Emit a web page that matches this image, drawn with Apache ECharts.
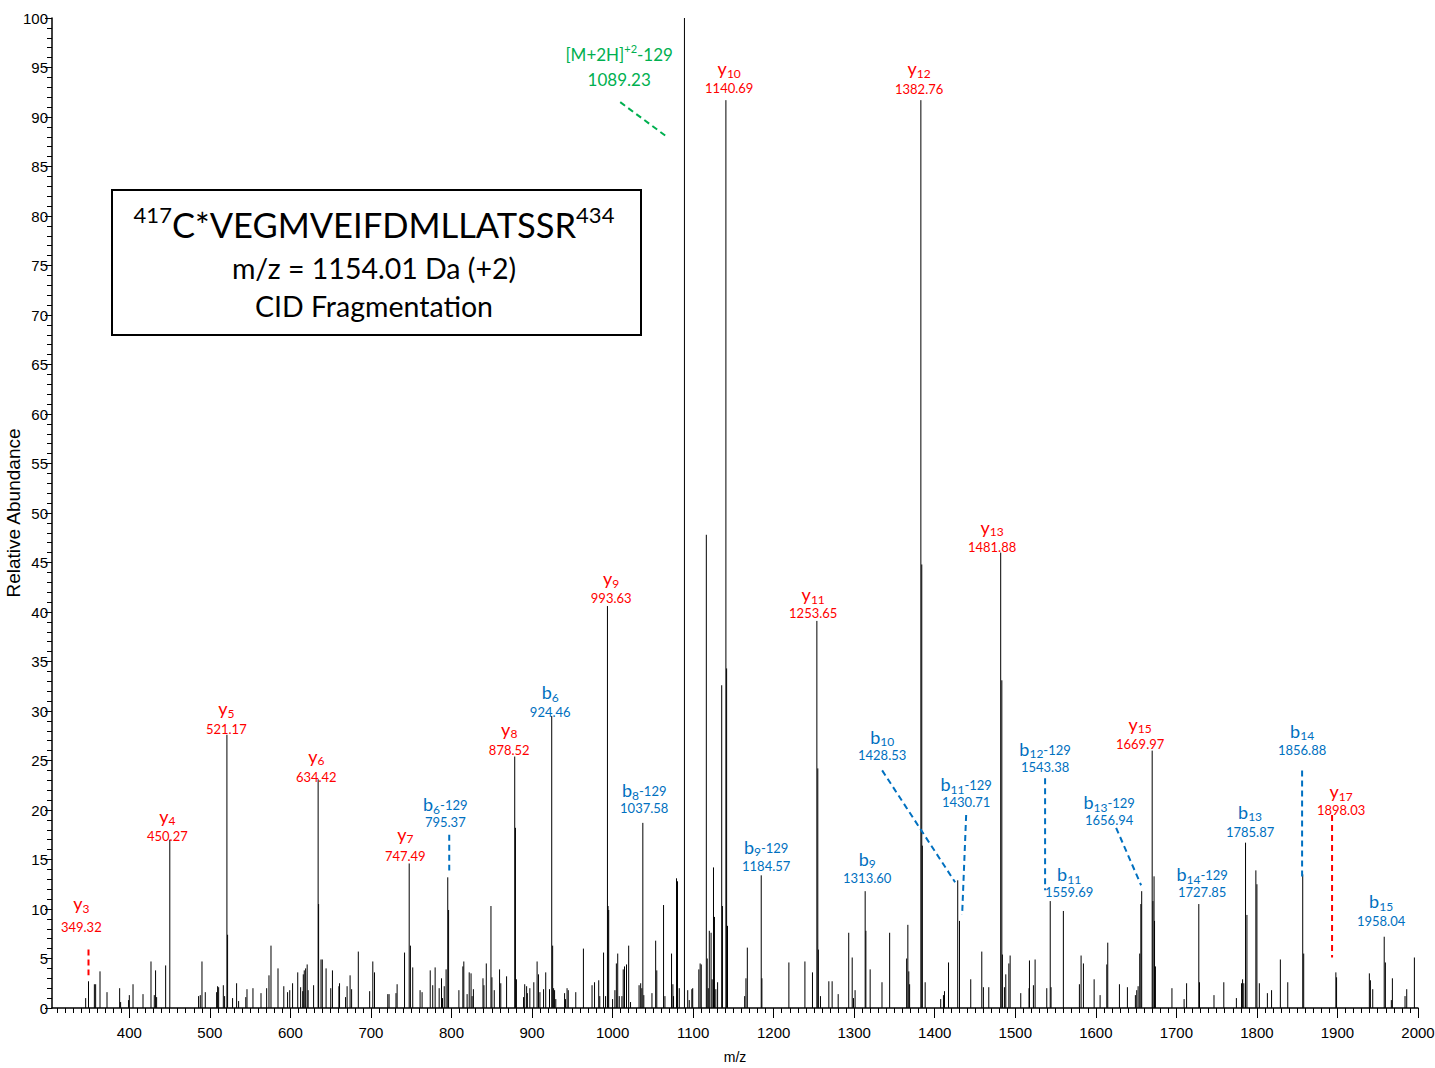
<!DOCTYPE html>
<html>
<head>
<meta charset="utf-8">
<title>CID spectrum</title>
<script src="https://cdn.jsdelivr.net/npm/echarts@6/dist/echarts.min.js"></script>
<style>
  html, body { margin: 0; padding: 0; background: #ffffff; }
  #chart { width: 1435px; height: 1068px; }
</style>
</head>
<body>
<div id="chart"></div>
<script>
// ---- spectrum data: [m/z, relative abundance %] ----
const peaks = [
  [345.8,1.0],[349.32,2.7],[356.6,2.4],[358.2,2.4],[363.6,3.7],[372.3,1.6],[388.0,2.0],[389.2,0.6],[399.1,0.8],[400.0,1.3],
  [404.6,2.4],[417.0,1.4],[426.9,4.7],[431.0,1.3],[432.6,3.8],[433.9,1.1],[445.1,4.3],[450.27,17.0],[486.0,1.2],[488.1,1.3],
  [490.2,4.7],[494.3,1.6],[508.4,1.6],[509.6,2.2],[510.9,2.1],[516.7,2.3],[518.3,1.2],[521.17,27.6],[522.0,7.4],[528.2,1.0],
  [533.2,2.5],[535.7,0.7],[544.6,1.1],[546.1,1.9],[553.5,2.0],[563.5,1.5],[570.5,2.0],[573.4,3.3],[575.9,6.3],[584.6,4.0],
  [591.8,2.2],[596.5,1.6],[599.2,1.8],[602.7,2.5],[609.1,3.6],[612.7,2.1],[615.3,1.7],[616.0,3.4],[617.2,3.8],[618.9,4.0],
  [620.8,4.4],[622.0,1.8],[628.8,2.3],[634.42,23.1],[635.0,10.5],[638.0,4.9],[639.6,4.9],[644.3,4.0],[650.1,2.0],[652.2,3.8],
  [660.2,2.2],[661.0,2.5],[668.5,1.1],[670.4,2.2],[674.1,3.3],[676.0,1.9],[684.3,5.7],[698.4,1.7],[702.3,4.7],[704.4,3.6],
  [720.9,1.4],[722.5,1.4],[731.1,1.5],[732.5,2.4],[741.7,5.6],[747.49,14.6],[749.0,6.3],[751.9,4.1],[761.0,1.8],[763.5,1.6],
  [773.6,3.8],[776.7,2.3],[779.7,4.1],[784.7,2.0],[787.6,3.0],[788.8,1.0],[791.0,2.2],[793.3,3.9],[795.37,13.2],[796.4,9.9],
  [809.2,1.8],[814.1,4.2],[815.3,4.7],[819.4,1.4],[822.0,3.6],[824.3,3.5],[825.6,1.2],[827.2,1.9],[839.1,3.0],[840.3,2.3],
  [843.2,4.5],[849.0,10.3],[850.2,3.1],[853.1,1.8],[859.7,3.9],[861.2,2.5],[868.4,3.2],[878.52,25.4],[879.4,18.2],[880.6,2.9],
  [889.5,1.1],[890.9,2.4],[893.3,2.2],[894.2,1.5],[897.3,2.0],[902.2,2.6],[906.3,4.7],[908.0,3.4],[909.8,1.6],[914.3,1.9],
  [917.0,3.6],[921.7,1.9],[924.46,29.5],[925.6,6.3],[926.8,2.0],[928.0,1.8],[929.5,0.9],[940.4,1.5],[941.5,0.9],[943.5,2.0],
  [945.0,1.8],[954.3,1.6],[963.8,6.0],[974.5,2.3],[977.6,2.6],[982.8,2.8],[984.1,1.2],[988.8,5.6],[991.3,1.2],[993.63,40.6],
  [994.4,10.3],[995.2,9.9],[1000.0,0.9],[1002.9,1.8],[1004.7,4.5],[1006.4,5.5],[1008.3,1.2],[1011.6,1.2],[1013.2,3.9],[1014.8,4.2],
  [1017.3,4.4],[1020.0,6.3],[1022.3,0.6],[1032.9,2.3],[1034.9,2.5],[1036.3,2.0],[1037.58,18.7],[1038.8,1.3],[1048.9,1.5],[1053.5,6.8],
  [1054.9,3.8],[1063.3,10.4],[1065.0,1.2],[1073.2,5.5],[1074.9,2.4],[1075.7,1.2],[1079.4,13.1],[1080.6,12.8],[1082.8,2.0],[1089.23,100.0],
  [1093.3,1.8],[1095.2,0.8],[1098.4,1.9],[1099.5,2.0],[1107.1,3.9],[1108.7,4.5],[1110.1,4.4],[1116.4,47.8],[1117.5,5.0],[1118.8,2.0],
  [1120.1,7.8],[1122.3,7.6],[1123.6,2.9],[1125.3,14.2],[1126.5,9.2],[1128.2,1.9],[1130.4,2.6],[1135.5,32.6],[1136.4,10.3],[1140.69,91.7],
  [1141.6,34.3],[1142.7,8.3],[1164.0,1.2],[1165.6,3.0],[1167.3,6.1],[1184.57,13.4],[1185.4,3.0],[1218.9,4.6],[1238.8,4.7],[1248.2,3.6],
  [1253.65,39.1],[1254.8,24.2],[1255.5,5.9],[1258.1,1.2],[1268.5,2.7],[1272.6,2.7],[1280.1,1.4],[1293.2,7.6],[1297.5,5.1],[1299.1,1.0],
  [1301.1,1.8],[1313.60,11.8],[1314.5,7.8],[1319.8,3.9],[1334.5,2.6],[1344.0,7.6],[1365.1,5.0],[1366.6,8.4],[1367.8,3.7],[1368.8,2.4],
  [1382.76,91.7],[1383.9,44.8],[1384.6,16.4],[1388.1,2.6],[1407.4,0.9],[1410.8,1.3],[1412.1,1.7],[1417.1,4.6],[1428.53,12.9],[1430.71,8.8],
  [1444.7,2.9],[1458.4,5.7],[1460.4,2.1],[1467.1,2.1],[1481.88,46.0],[1483.3,33.1],[1484.0,5.4],[1486.5,2.1],[1488.2,3.4],[1492.0,4.5],
  [1493.6,5.3],[1506.8,1.5],[1517.1,2.0],[1517.6,4.8],[1522.5,2.3],[1524.6,4.9],[1539.1,2.0],[1543.38,10.8],[1544.4,2.1],[1559.69,9.8],
  [1579.6,2.4],[1581.7,5.3],[1584.6,4.5],[1597.9,2.9],[1605.3,1.3],[1613.6,4.4],[1614.8,6.6],[1629.3,2.4],[1639.2,2.1],[1649.1,1.3],
  [1650.8,1.8],[1652.5,2.2],[1654.5,5.5],[1655.9,10.5],[1656.94,11.8],[1669.97,26.0],[1670.9,10.8],[1672.3,13.3],[1672.9,8.8],[1674.0,4.2],
  [1694.5,2.0],[1709.6,0.9],[1712.7,2.5],[1727.85,10.5],[1728.7,2.6],[1746.7,1.3],[1758.9,2.6],[1774.5,1.0],[1780.9,2.5],[1782.2,2.9],
  [1783.7,2.5],[1785.87,16.7],[1787.6,9.4],[1798.7,13.9],[1800.0,12.5],[1803.0,2.5],[1813.0,1.5],[1818.2,1.8],[1829.1,4.9],[1838.3,2.6],
  [1856.88,13.5],[1858.1,5.5],[1898.03,3.6],[1898.9,3.1],[1939.6,3.5],[1940.9,2.8],[1943.8,1.9],[1958.04,7.2],[1959.5,4.6],[1966.9,0.8],
  [1968.2,3.0],[1983.9,1.2],[1986.0,1.9],[1995.5,5.1]
];

// ---- assigned fragment ions ----
const ionSeries = ['y','y','y','y','y','b','y','b','y','b','M','y','b','y','b','y','b','b','y','b','b','b','y','b','b','b','y','b'];
const ionNumbers = ['3','4','5','6','7','6','8','6','9','8','','10','9','11','9','12','10','11','13','12','11','13','15','14','13','14','17','15'];
const ionLosses = ['','','','','','-129','','','','-129','-129','','-129','','','','','-129','','-129','','-129','','-129','','','',''];
const ionMz = [349.32,450.27,521.17,634.42,747.49,795.37,878.52,924.46,993.63,1037.58,1089.23,1140.69,1184.57,1253.65,1313.60,
               1382.76,1428.53,1430.71,1481.88,1543.38,1559.69,1656.94,1669.97,1727.85,1785.87,1856.88,1898.03,1958.04];

// ---- axis tick labels ----
const xTickLabels = [400,500,600,700,800,900,1000,1100,1200,1300,1400,1500,1600,1700,1800,1900,2000];
const yTickLabels = [0,5,10,15,20,25,30,35,40,45,50,55,60,65,70,75,80,85,90,95,100];

// ---- peptide information ----
const peptideStart = '417';
const peptideSeq = 'C*VEGMVEIFDMLLATSSR';
const peptideEnd = '434';
const precursorLine = 'm/z = 1154.01 Da (+2)';
const methodLine = 'CID Fragmentation';

// ---- label placement (data units): [centre m/z, name row, value row, leader line or null] ----
const ionLabelPlacement = [
  [340.4,10.6,8.2,[349.32,5.9,349.32,3.3]],
  [447.2,19.4,17.4,null],
  [520.4,30.3,28.2,null],
  [632.1,25.5,23.3,null],
  [742.6,17.6,15.4,null],
  [792.3,20.6,18.8,[797.2,17.5,797.2,13.9]],
  [871.7,28.2,26.1,null],
  [922.6,31.9,29.9,null],
  [998.3,43.4,41.4,null],
  [1039.3,22.0,20.2,null],
  [1008.2,96.3,93.8,[1009.5,91.5,1069.1,87.9]],
  [1144.8,94.9,92.9,null],
  [1190.7,16.3,14.3,null],
  [1249.1,41.8,39.9,null],
  [1316.1,15.1,13.1,null],
  [1380.6,94.9,92.8,null],
  [1334.7,27.4,25.6,[1334.7,24.0,1425.3,12.7]],
  [1439.0,22.6,20.8,[1439.0,19.5,1434.0,9.4]],
  [1471.2,48.6,46.6,null],
  [1537.0,26.2,24.3,[1537.0,23.2,1537.0,11.9]],
  [1566.8,13.5,11.7,null],
  [1616.5,20.8,19.0,[1625.2,18.2,1656.2,12.4]],
  [1655.0,28.7,26.7,null],
  [1732.0,13.5,11.7,null],
  [1791.5,19.8,17.8,null],
  [1856.1,28.0,26.1,[1856.1,24.0,1856.1,13.1]],
  [1904.5,21.9,20.0,[1893.3,19.5,1893.3,5.1]],
  [1954.2,10.8,8.8,null]
];

const ionColors = { y: '#FF0000', b: '#0070C0', M: '#00B050' };
const LABEL_FONT = 'Lato';
const AXIS_FONT = '"Liberation Sans", Arial, sans-serif';

// text measuring for composed labels (subscripts / superscripts)
const measureCtx = document.createElement('canvas').getContext('2d');
function textWidth(text, size, family) {
  measureCtx.font = size + 'px ' + family;
  return measureCtx.measureText(text).width;
}
// lay out a row of text pieces, centred horizontally on cx, vertically on cy
function composeRow(pieces, cx, cy, family, color, z) {
  const widths = pieces.map(p => textWidth(p.t, p.s, family));
  const total = widths.reduce((a, b) => a + b, 0);
  let x = cx - total / 2;
  return pieces.map((p, i) => {
    const el = {
      type: 'text',
      x: x,
      y: cy + (p.dy || 0),
      silent: true,
      style: {
        text: p.t,
        fontSize: p.s,
        fontFamily: family,
        fill: color,
        align: 'left',
        verticalAlign: 'middle',
        lineHeight: p.s
      }
    };
    if (z != null) el.z = z;
    x += widths[i];
    return el;
  });
}

function ionNamePieces(i) {
  const s = ionSeries[i];
  if (s === 'M') {
    return [{ t: '[M+2H]', s: 17 }, { t: '+2', s: 11, dy: -6 }, { t: ionLosses[i], s: 17 }];
  }
  const out = [{ t: s, s: 18 }, { t: ionNumbers[i], s: 12, dy: 5 }];
  if (ionLosses[i]) out.push({ t: ionLosses[i], s: 13, dy: 1 });
  return out;
}

const chart = echarts.init(document.getElementById('chart'), null, { renderer: 'svg' });

const xMinorTicks = [];
for (let v = 310; v <= 2000; v += 10) xMinorTicks.push(v);

const X_MIN = 304, X_MAX = 2000;

const option = {
  backgroundColor: '#ffffff',
  animation: false,
  grid: { left: 52, right: 17, top: 18, bottom: 60, containLabel: false, outerBoundsMode: 'none' },
  xAxis: [
    {
      type: 'value', min: X_MIN, max: X_MAX,
      name: 'm/z', nameLocation: 'middle', nameGap: 42, nameMoveOverlap: false,
      nameTextStyle: { fontFamily: AXIS_FONT, fontSize: 14, color: '#000' },
      axisLine: { show: true, lineStyle: { color: '#000', width: 1.5 } },
      axisTick: { show: true, customValues: xMinorTicks, length: 5, lineStyle: { color: '#000', width: 1 } },
      axisLabel: { customValues: xTickLabels, fontFamily: AXIS_FONT, fontSize: 15, color: '#000', margin: 17,
                   formatter: v => String(v) },
      splitLine: { show: false }
    },
    {
      type: 'value', min: X_MIN, max: X_MAX, position: 'bottom',
      axisLine: { show: false },
      axisTick: { show: true, customValues: xTickLabels, length: 10, lineStyle: { color: '#000', width: 1 } },
      axisLabel: { show: false },
      splitLine: { show: false }
    }
  ],
  yAxis: {
    type: 'value', min: 0, max: 100, interval: 5,
    name: 'Relative Abundance', nameLocation: 'middle', nameGap: 39, nameMoveOverlap: false,
    nameTextStyle: { fontFamily: '"Liberation Sans", Arial, sans-serif', fontSize: 19, color: '#000',
                     verticalAlign: 'middle' },
    axisLine: { show: true, lineStyle: { color: '#000', width: 1.5 } },
    axisTick: { show: true, length: 7, lineStyle: { color: '#000' } },
    minorTick: { show: true, splitNumber: 5, length: 5, lineStyle: { color: '#000' } },
    axisLabel: {
      fontFamily: AXIS_FONT, fontSize: 15, color: '#000', margin: 4,
      formatter: v => (yTickLabels.indexOf(v) >= 0 ? String(v) : '')
    },
    splitLine: { show: false }
  },
  series: [
    {
      name: 'spectrum',
      type: 'custom',
      xAxisIndex: 0,
      data: peaks,
      silent: true,
      renderItem: function (params, api) {
        const mz = api.value(0), ab = api.value(1);
        const p0 = api.coord([mz, 0]);
        const p1 = api.coord([mz, ab]);
        return {
          type: 'line',
          shape: { x1: p0[0], y1: p0[1], x2: p1[0], y2: p1[1] },
          style: { stroke: '#000', lineWidth: 1 }
        };
      }
    },
    {
      name: 'ion labels',
      type: 'custom',
      xAxisIndex: 0,
      data: ionMz.map((m, i) => [m, i]),
      silent: true,
      z: 5,
      renderItem: function (params, api) {
        const i = params.dataIndex;
        const place = ionLabelPlacement[i];
        const color = ionColors[ionSeries[i]];
        const nameP = api.coord([place[0], place[1]]);
        const valP = api.coord([place[0], place[2]]);
        const isPrecursor = ionSeries[i] === 'M';
        const children = [];
        composeRow(ionNamePieces(i), nameP[0], nameP[1], LABEL_FONT, color).forEach(e => children.push(e));
        composeRow([{ t: ionMz[i].toFixed(2), s: isPrecursor ? 17 : 13 }], valP[0], valP[1], LABEL_FONT, color)
          .forEach(e => children.push(e));
        if (place[3]) {
          const a = api.coord([place[3][0], place[3][1]]);
          const b = api.coord([place[3][2], place[3][3]]);
          children.push({
            type: 'line',
            shape: { x1: a[0], y1: a[1], x2: b[0], y2: b[1] },
            style: { stroke: color, lineWidth: 2, lineDash: [6, 4] }
          });
        }
        return { type: 'group', children: children };
      }
    }
  ]
};

// peptide information box
const titleCx = 374;
option.graphic = [
  {
    type: 'rect', silent: true, z: 10,
    shape: { x: 112, y: 190, width: 529, height: 145 },
    style: { fill: '#ffffff', stroke: '#000', lineWidth: 2 }
  },
  ...composeRow([
    { t: peptideStart, s: 22, dy: -10 },
    { t: peptideSeq, s: 34.5 },
    { t: peptideEnd, s: 22, dy: -10 }
  ], titleCx, 224, LABEL_FONT, '#000', 20),
  ...composeRow([{ t: precursorLine, s: 28.5 }], titleCx, 268, LABEL_FONT, '#000', 20),
  ...composeRow([{ t: methodLine, s: 28.5 }], titleCx, 306, LABEL_FONT, '#000', 20)
];

chart.setOption(option);
</script>
</body>
</html>
